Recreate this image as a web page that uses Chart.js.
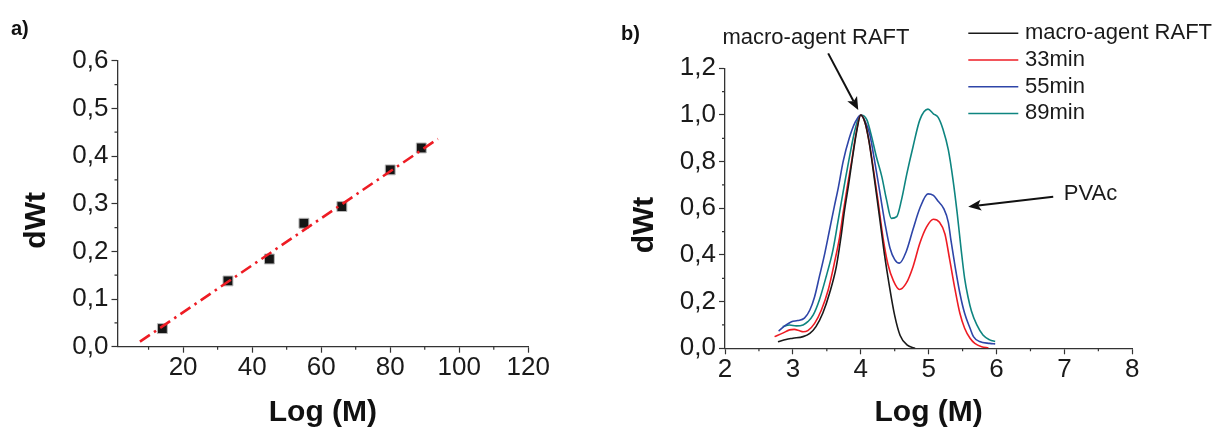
<!DOCTYPE html>
<html><head><meta charset="utf-8">
<script src="https://cdn.jsdelivr.net/npm/chart.js@4.4.1/dist/chart.umd.min.js"></script>
<style>
html,body{margin:0;padding:0;background:#fff;width:1213px;height:428px;overflow:hidden;}
#wa{position:absolute;left:0;top:0;width:606px;height:428px;}
#wb{position:absolute;left:606px;top:0;width:607px;height:428px;}
.panel{position:absolute;font:bold 20px "Liberation Sans",Arial,sans-serif;line-height:20px;color:#111;}
</style></head><body>
<div id="wa"><canvas id="ca" width="606" height="428" style="width:606px;height:428px"></canvas></div>
<div id="wb"><canvas id="cb" width="607" height="428" style="width:607px;height:428px"></canvas></div>
<div class="panel" style="left:11px;top:18px">a)</div>
<div class="panel" style="left:621px;top:23px">b)</div>
<script>
// ---------- panel a data ----------
const timeMin = [14, 33, 45, 55, 66, 80, 89];
const dwtA = [0.038, 0.138, 0.184, 0.259, 0.294, 0.371, 0.417];
const fitX = [7.5, 93.8];
const fitY = [0.0105, 0.436];
const xTicksA = [20, 40, 60, 80, 100, 120];
const xMinorA = [10, 30, 50, 70, 90, 110];
const yTicksA = [0, 0.1, 0.2, 0.3, 0.4, 0.5, 0.6];
const yMinorA = [0.05, 0.15, 0.25, 0.35, 0.45, 0.55];

// ---------- panel b data ----------
const seriesNames = ['macro-agent RAFT', '33min', '55min', '89min'];
const raftX = [2.78, 2.9, 3.0, 3.15, 3.25, 3.34, 3.44, 3.54, 3.64, 3.71, 3.76, 3.82, 3.88, 3.94, 4.0, 4.06, 4.12, 4.18, 4.25, 4.3, 4.35, 4.42, 4.5, 4.58, 4.68, 4.8];
const raftY = [0.028, 0.038, 0.043, 0.05, 0.064, 0.093, 0.15, 0.236, 0.35, 0.48, 0.59, 0.70, 0.82, 0.93, 1.0, 0.97, 0.89, 0.77, 0.62, 0.51, 0.40, 0.27, 0.14, 0.055, 0.015, 0.0];
const m33X = [2.73, 2.85, 2.95, 3.02, 3.1, 3.15, 3.22, 3.32, 3.42, 3.52, 3.61, 3.69, 3.74, 3.8, 3.87, 3.93, 4.0, 4.06, 4.12, 4.18, 4.25, 4.33, 4.4, 4.48, 4.57, 4.67, 4.77, 4.87, 4.97, 5.07, 5.16, 5.24, 5.31, 5.39, 5.46, 5.53, 5.61, 5.68, 5.78, 5.88];
const m33Y = [0.05, 0.065, 0.079, 0.081, 0.075, 0.071, 0.076, 0.107, 0.164, 0.25, 0.364, 0.48, 0.58, 0.69, 0.81, 0.92, 1.0, 0.97, 0.89, 0.78, 0.64, 0.47, 0.36, 0.29, 0.252, 0.279, 0.35, 0.45, 0.52, 0.553, 0.54, 0.49, 0.38, 0.25, 0.15, 0.086, 0.043, 0.021, 0.007, 0.002];
const m55X = [2.79, 2.9, 2.98, 3.07, 3.17, 3.25, 3.32, 3.39, 3.47, 3.54, 3.61, 3.67, 3.74, 3.83, 3.92, 4.0, 4.06, 4.13, 4.2, 4.28, 4.36, 4.43, 4.5, 4.57, 4.67, 4.77, 4.87, 4.99, 5.07, 5.14, 5.22, 5.29, 5.33, 5.39, 5.46, 5.53, 5.61, 5.66, 5.75, 5.9, 5.98];
const m55Y = [0.074, 0.1, 0.114, 0.119, 0.129, 0.164, 0.221, 0.307, 0.407, 0.507, 0.607, 0.69, 0.8, 0.9, 0.97, 1.0, 0.975, 0.92, 0.81, 0.67, 0.53, 0.43, 0.38, 0.365, 0.415, 0.51, 0.6, 0.662, 0.655, 0.63, 0.6, 0.54, 0.46, 0.35, 0.236, 0.15, 0.086, 0.05, 0.029, 0.021, 0.019];
const m89X = [2.85, 2.95, 3.05, 3.15, 3.22, 3.3, 3.39, 3.49, 3.59, 3.66, 3.71, 3.77, 3.84, 3.91, 3.97, 4.0, 4.09, 4.16, 4.23, 4.31, 4.38, 4.45, 4.53, 4.6, 4.68, 4.77, 4.87, 4.99, 5.07, 5.14, 5.21, 5.29, 5.36, 5.42, 5.48, 5.53, 5.58, 5.63, 5.71, 5.8, 5.9, 5.98];
const m89Y = [0.093, 0.1, 0.096, 0.1, 0.114, 0.143, 0.207, 0.307, 0.421, 0.536, 0.62, 0.72, 0.83, 0.93, 0.99, 1.0, 0.979, 0.907, 0.821, 0.736, 0.636, 0.557, 0.564, 0.636, 0.75, 0.864, 0.979, 1.025, 1.005, 0.99, 0.94, 0.85, 0.72, 0.58, 0.42, 0.3, 0.22, 0.16, 0.1, 0.057, 0.036, 0.029];
const xTicksB = [2, 3, 4, 5, 6, 7, 8];
const xMinorB = [2.5, 3.5, 4.5, 5.5, 6.5, 7.5];
const yTicksB = [0, 0.2, 0.4, 0.6, 0.8, 1.0, 1.2];
const yMinorB = [0.1, 0.3, 0.5, 0.7, 0.9, 1.1];

// ---------- styling ----------
const FONT = '"Liberation Sans", Arial, sans-serif';
const AXIS = '#333333';
const TXT = '#1a1a1a';
const pts = (xs, ys) => xs.map((x, i) => ({x: x, y: ys[i]}));
const comma = v => v.toFixed(1).replace('.', ',');

const minorTickPlugin = {
  id: 'minorTicks',
  afterDraw(chart, args, o) {
    const ctx = chart.ctx, xs = chart.scales.x, ys = chart.scales.y;
    ctx.save();
    ctx.strokeStyle = o.color; ctx.lineWidth = o.width;
    ctx.beginPath();
    o.x.forEach(v => { const p = xs.getPixelForValue(v); ctx.moveTo(p, xs.top); ctx.lineTo(p, xs.top + o.length); });
    o.y.forEach(v => { const p = ys.getPixelForValue(v); ctx.moveTo(ys.right, p); ctx.lineTo(ys.right - o.length, p); });
    ctx.stroke();
    ctx.restore();
  }
};

function scales(xTicks, xMin, xMax, yTicks, yMax, yFmt, yWidth, xHeight, yTitlePad) {
  const gridCommon = {display: true, drawOnChartArea: false, drawTicks: true, tickLength: 6, tickColor: AXIS, tickWidth: 1.2, color: AXIS};
  return {
    x: {
      type: 'linear', min: xMin, max: xMax,
      afterBuildTicks: s => { s.ticks = xTicks.map(v => ({value: v})); },
      afterFit: s => { s.height = xHeight; },
      border: {display: true, color: AXIS, width: 1.3},
      grid: gridCommon,
      ticks: {color: TXT, font: {family: FONT, size: 26}, padding: 0, maxRotation: 0, callback: v => String(v)},
      title: {display: true, text: 'Log (M)', color: '#111', font: {family: FONT, size: 30, weight: 'bold', lineHeight: 1}, padding: {top: 0, bottom: 0}}
    },
    y: {
      type: 'linear', min: 0, max: yMax,
      afterBuildTicks: s => { s.ticks = yTicks.map(v => ({value: v})); },
      afterFit: s => { s.width = yWidth; },
      border: {display: true, color: AXIS, width: 1.3},
      grid: gridCommon,
      ticks: {color: TXT, font: {family: FONT, size: 26}, padding: 3, callback: yFmt},
      title: {display: true, text: 'dWt    ', color: '#111', font: {family: FONT, size: 30, weight: 'bold', lineHeight: 1}, padding: {top: yTitlePad, bottom: 0}}
    }
  };
}

// ---------- chart a ----------
new Chart(document.getElementById('ca'), {
  type: 'scatter',
  data: {
    datasets: [
      {label: 'fit', type: 'line', data: pts(fitX, fitY), borderColor: '#ee1c24', borderWidth: 2.6, borderDash: [12, 5, 2.5, 5], pointRadius: 0, fill: false},
      {label: 'dWt', data: pts(timeMin, dwtA), pointStyle: 'rect', pointRadius: 7, backgroundColor: '#151515', borderColor: '#b8b8b8', borderWidth: 1}
    ]
  },
  options: {
    responsive: false, animation: false, devicePixelRatio: 1,
    layout: {padding: {left: 0, top: 60.7, right: 77.7, bottom: 0}},
    plugins: {legend: {display: false}, tooltip: {enabled: false},
      minorTicks: {x: xMinorA, y: yMinorA, length: 3, color: AXIS, width: 1.2}},
    scales: scales(xTicksA, 1, 120, yTicksA, 0.6, comma, 117.5, 81.3, 22)
  },
  plugins: [minorTickPlugin]
});

// ---------- chart b ----------
const legendPlugin = {
  id: 'sideLegend',
  afterDraw(chart, args, o) {
    const ctx = chart.ctx;
    ctx.save();
    ctx.font = o.font; ctx.textBaseline = 'middle'; ctx.textAlign = 'left';
    chart.data.datasets.forEach((ds, i) => {
      const y = o.top + i * o.rowGap;
      ctx.strokeStyle = ds.borderColor; ctx.lineWidth = 1.5;
      ctx.beginPath(); ctx.moveTo(o.left, y); ctx.lineTo(o.left + o.lineLen, y); ctx.stroke();
      ctx.fillStyle = o.color;
      ctx.fillText(ds.label, o.left + o.lineLen + o.gap, y);
    });
    ctx.restore();
  }
};
const annotPlugin = {
  id: 'annots',
  afterDraw(chart, args, o) {
    const ctx = chart.ctx, xs = chart.scales.x, ys = chart.scales.y;
    const P = (x, y) => [xs.getPixelForValue(x), ys.getPixelForValue(y)];
    ctx.save();
    ctx.font = o.font; ctx.fillStyle = o.color; ctx.textBaseline = 'middle';
    o.texts.forEach(t => { const [px, py] = P(t.x, t.y); ctx.textAlign = t.align; ctx.fillText(t.text, px, py); });
    ctx.strokeStyle = '#111'; ctx.fillStyle = '#111'; ctx.lineWidth = 2;
    o.arrows.forEach(a => {
      const [x0, y0] = P(a.from[0], a.from[1]);
      const [x1, y1] = P(a.to[0], a.to[1]);
      const ang = Math.atan2(y1 - y0, x1 - x0), L = 13, W = 5.5;
      const bx = x1 - L * Math.cos(ang), by = y1 - L * Math.sin(ang);
      ctx.beginPath(); ctx.moveTo(x0, y0); ctx.lineTo(bx + 3 * Math.cos(ang), by + 3 * Math.sin(ang)); ctx.stroke();
      ctx.beginPath();
      ctx.moveTo(x1, y1);
      ctx.lineTo(bx - W * Math.sin(ang), by + W * Math.cos(ang));
      ctx.lineTo(bx + 3 * Math.cos(ang), by + 3 * Math.sin(ang));
      ctx.lineTo(bx + W * Math.sin(ang), by - W * Math.cos(ang));
      ctx.closePath(); ctx.fill();
    });
    ctx.restore();
  }
};

const colorsB = ['#1a1a1a', '#ee1c24', '#2e45a8', '#0e8580'];
const seriesB = [pts(raftX, raftY), pts(m33X, m33Y), pts(m55X, m55Y), pts(m89X, m89Y)];
new Chart(document.getElementById('cb'), {
  type: 'line',
  data: {
    datasets: seriesB.map((d, i) => ({
      label: seriesNames[i], data: d, borderColor: colorsB[i], borderWidth: 1.6,
      pointRadius: 0, fill: false, cubicInterpolationMode: 'monotone'
    }))
  },
  options: {
    responsive: false, animation: false, devicePixelRatio: 1,
    layout: {padding: {left: 0, top: 68.3, right: 80.7, bottom: 0}},
    plugins: {
      legend: {display: false}, tooltip: {enabled: false},
      minorTicks: {x: xMinorB, y: yMinorB, length: 3, color: AXIS, width: 1.2},
      sideLegend: {left: 362.3, top: 33.3, rowGap: 26.7, lineLen: 50, gap: 6.7, font: '22px ' + FONT, color: TXT},
      annots: {
        font: '22px ' + FONT, color: TXT,
        texts: [{text: 'macro-agent RAFT', x: 3.34, y: 1.33, align: 'center'}, {text: 'PVAc', x: 6.99, y: 0.662, align: 'left'}],
        arrows: [{from: [3.52, 1.264], to: [3.963, 1.021]}, {from: [6.835, 0.65], to: [5.583, 0.607]}]
      }
    },
    scales: scales(xTicksB, 2, 8, yTicksB, 1.2, comma, 119, 79.7, 24)
  },
  plugins: [minorTickPlugin, legendPlugin, annotPlugin]
});
</script>
</body></html>
